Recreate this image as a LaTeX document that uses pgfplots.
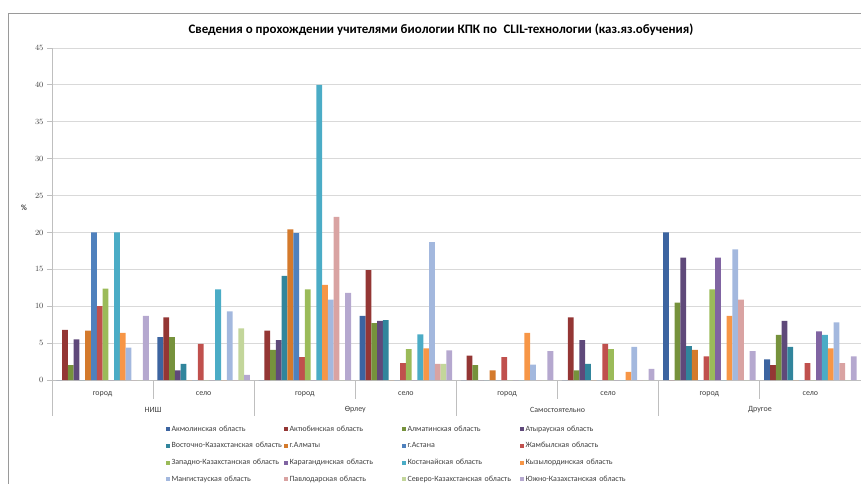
\documentclass[border=0pt]{standalone}
\usepackage{pgfplots}
\pgfplotsset{compat=1.18}
\usepackage{pgfplotstable}
\usepackage{fontspec}
\setmainfont{Carlito}

\definecolor{c1}{HTML}{3C64A0}
\definecolor{c2}{HTML}{943634}
\definecolor{c3}{HTML}{76923C}
\definecolor{c4}{HTML}{5F497A}
\definecolor{c5}{HTML}{31859C}
\definecolor{c6}{HTML}{D47A2C}
\definecolor{c7}{HTML}{4F81BD}
\definecolor{c8}{HTML}{C0504D}
\definecolor{c9}{HTML}{9BBB59}
\definecolor{c10}{HTML}{8064A2}
\definecolor{c11}{HTML}{4BACC6}
\definecolor{c12}{HTML}{F79646}
\definecolor{c13}{HTML}{A3B8DE}
\definecolor{c14}{HTML}{D9A3A2}
\definecolor{c15}{HTML}{C3D69B}
\definecolor{c16}{HTML}{B5A8CF}
\definecolor{gridgray}{HTML}{D9D9D9}
\definecolor{axisgray}{HTML}{BFBFBF}
\definecolor{framegray}{HTML}{9A9A9A}
\definecolor{labelgray}{HTML}{404040}

% rows: НИШ город/село, Өрлеу город/село, Самостоятельно город/село, Другое город/село
\pgfplotstableread{
x s1 s2 s3 s4 s5 s6 s7 s8 s9 s10 s11 s12 s13 s14 s15 s16
0 0 6.8 2.0 5.5 0 6.7 20 10 12.4 0 20 6.4 4.4 0 0 8.7
1 5.8 8.5 5.8 1.3 2.2 0 0 4.9 0 0 12.3 0 9.3 0 7.0 0.7
2 0 6.7 4.1 5.4 14.1 20.4 19.9 3.1 12.3 0 40 12.9 10.9 22.1 0 11.8
3 8.7 14.9 7.7 8.0 8.1 0 0 2.3 4.2 0 6.2 4.3 18.7 2.2 2.2 4.0
4 0 3.3 2.0 0 0 1.3 0 3.1 0 0 0 6.4 2.1 0 0 3.9
5 0 8.5 1.3 5.4 2.2 0 0 4.9 4.2 0 0 1.1 4.5 0 0 1.5
6 20 0 10.5 16.6 4.6 4.1 0 3.2 12.3 16.6 0 8.7 17.7 10.9 0 3.9
7 2.8 2.0 6.1 8.0 4.5 0 0 2.3 0 6.6 6.1 4.3 7.8 2.3 0 3.2
}\datatable

\begin{document}
\begin{tikzpicture}
\useasboundingbox (0,0) rectangle (861bp,484bp);
\draw[framegray, line width=0.8bp] (8bp,0) -- (8bp,471bp) -- (861bp,471bp);
\node[font=\fontsize{13}{15}\selectfont\bfseries] at (441bp,454bp)
  {Сведения о прохождении учителями биологии КПК по\enspace CLIL-технологии (каз.яз.обучения)};

\begin{axis}[
  at={(52bp,104bp)}, anchor=south west,
  scale only axis, width=809bp, height=332bp,
  ybar=0pt, bar width=0.0571,
  xmin=-0.5, xmax=7.5, ymin=0, ymax=45,
  enlargelimits=false,
  ytick={0,5,...,45},
  xtick={0,...,7},
  xticklabels={город,село,город,село,город,село,город,село},
  tick align=outside,
  major tick length=5bp,
  major x tick style={draw=none},
  ytick style={draw=axisgray, line width=0.8bp},
  xticklabel style={yshift=-3bp},
  ymajorgrids,
  grid style={draw=gridgray, line width=0.8bp},
  axis x line*=bottom, axis y line*=left,
  axis line style={draw=axisgray, line width=0.8bp},
  tick label style={font=\fontsize{8}{9.5}\selectfont, text=labelgray},
  ylabel={\%},
  ylabel style={at={(axis description cs:-0.0346,0.518)}, rotate=-90, anchor=center,
    font=\fontsize{8}{9.5}\selectfont\bfseries, text=labelgray},
  clip=false,
  every axis plot/.append style={draw=none},
  legend columns=4,
  legend image code/.code={\fill[#1] (0bp,-2bp) rectangle (4bp,2bp);},
  legend style={at={(0.137,-0.127)}, anchor=north west, draw=none, fill=none,
    font=\fontsize{8}{9.5}\selectfont, text=labelgray,
    nodes={inner sep=1.5bp, text width=111bp, align=left, text height=5.5bp, text depth=1.5bp},
    row sep=6.6bp, column sep=0bp},
]
\addplot[fill=c1] table[x=x,y=s1]{\datatable};
\addlegendentry{Акмолинская область}
\addplot[fill=c2] table[x=x,y=s2]{\datatable};
\addlegendentry{Актюбинская область}
\addplot[fill=c3] table[x=x,y=s3]{\datatable};
\addlegendentry{Алматинская область}
\addplot[fill=c4] table[x=x,y=s4]{\datatable};
\addlegendentry{Атырауская область}
\addplot[fill=c5] table[x=x,y=s5]{\datatable};
\addlegendentry{Восточно-Казахстанская область}
\addplot[fill=c6] table[x=x,y=s6]{\datatable};
\addlegendentry{г.Алматы}
\addplot[fill=c7] table[x=x,y=s7]{\datatable};
\addlegendentry{г.Астана}
\addplot[fill=c8] table[x=x,y=s8]{\datatable};
\addlegendentry{Жамбылская область}
\addplot[fill=c9] table[x=x,y=s9]{\datatable};
\addlegendentry{Западно-Казахстанская область}
\addplot[fill=c10] table[x=x,y=s10]{\datatable};
\addlegendentry{Карагандинская область}
\addplot[fill=c11] table[x=x,y=s11]{\datatable};
\addlegendentry{Костанайская область}
\addplot[fill=c12] table[x=x,y=s12]{\datatable};
\addlegendentry{Кызылординская область}
\addplot[fill=c13] table[x=x,y=s13]{\datatable};
\addlegendentry{Мангистауская область}
\addplot[fill=c14] table[x=x,y=s14]{\datatable};
\addlegendentry{Павлодарская область}
\addplot[fill=c15] table[x=x,y=s15]{\datatable};
\addlegendentry{Северо-Казахстанская область}
\addplot[fill=c16] table[x=x,y=s16]{\datatable};
\addlegendentry{Южно-Казахстанская область}

% category separators of the two-level axis
\pgfplotsinvokeforeach{-0.5,1.5,3.5,5.5,7.5}{
  \draw[axisgray, line width=0.8bp] (axis cs:#1,0) -- ([yshift=-36bp]axis cs:#1,0);}
\pgfplotsinvokeforeach{0.5,2.5,4.5,6.5}{
  \draw[axisgray, line width=0.8bp] (axis cs:#1,0) -- ([yshift=-19bp]axis cs:#1,0);}
\node[font=\fontsize{8}{9.5}\selectfont, text=labelgray] at ([yshift=-30bp]axis cs:0.5,0) {НИШ};
\node[font=\fontsize{8}{9.5}\selectfont, text=labelgray] at ([yshift=-30bp]axis cs:2.5,0) {Өрлеу};
\node[font=\fontsize{8}{9.5}\selectfont, text=labelgray] at ([yshift=-30bp]axis cs:4.5,0) {Самостоятельно};
\node[font=\fontsize{8}{9.5}\selectfont, text=labelgray] at ([yshift=-30bp]axis cs:6.5,0) {Другое};
\end{axis}
\end{tikzpicture}
\end{document}
